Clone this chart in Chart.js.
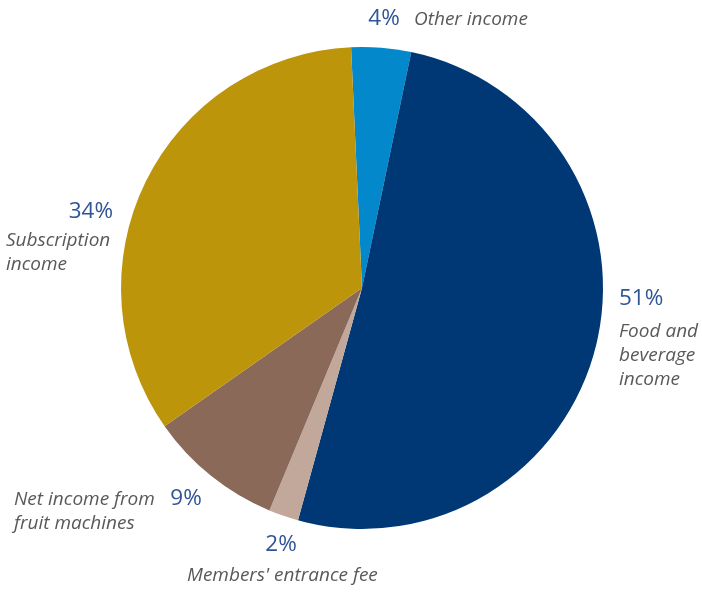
<!DOCTYPE html>
<html>
<head>
<meta charset="utf-8">
<script src="https://cdn.jsdelivr.net/npm/chart.js@4/dist/chart.umd.min.js"></script>
<style>
  body { margin: 0; background: #fff; }
  #wrap { width: 702px; height: 592px; }
</style>
</head>
<body>
<div id="wrap"><canvas id="pie" width="702" height="592"></canvas></div>
<script>
// data, clockwise from the top
const categories = ["Other income", "Food and beverage income", "Members' entrance fee", "Net income from fruit machines", "Subscription income"];
const shares = [4, 51, 2, 9, 34];
const sliceColors = ["#0288cb", "#003875", "#c2a79b", "#8a6959", "#bd950a"];

// where each label block sits (pct text, then name lines), canvas px
const labelLayout = [
  { pct: [384, 19, "center"], lines: ["Other income"], name: [414, 20, "left"] },
  { pct: [619, 299, "left"], lines: ["Food and", "beverage", "income"], name: [619, 332, "left"] },
  { pct: [281, 545, "center"], lines: ["Members' entrance fee"], name: [187, 576, "left"] },
  { pct: [186, 499, "center"], lines: ["Net income from", "fruit machines"], name: [14, 500, "left"] },
  { pct: [113, 212, "right"], lines: ["Subscription", "income"], name: [6, 241, "left"] },
];

const labelPlugin = {
  id: "pieLabels",
  afterDraw(chart) {
    const ctx = chart.ctx;
    const vals = chart.data.datasets[0].data;
    ctx.save();
    ctx.textBaseline = "middle";
    labelLayout.forEach((l, i) => {
      ctx.font = "22.5px 'Open Sans'";
      ctx.fillStyle = "#2f5597";
      ctx.textAlign = l.pct[2];
      ctx.fillText(vals[i] + "%", l.pct[0], l.pct[1]);
      ctx.font = "italic 19px 'Open Sans'";
      ctx.fillStyle = "#595959";
      ctx.textAlign = l.name[2];
      l.lines.forEach((t, j) => ctx.fillText(t, l.name[0], l.name[1] + j * 24));
    });
    ctx.restore();
  }
};

new Chart(document.getElementById("pie").getContext("2d"), {
  type: "pie",
  data: {
    labels: categories,
    datasets: [{
      data: shares,
      backgroundColor: sliceColors,
      borderWidth: 0,
    }],
  },
  options: {
    responsive: false,
    animation: false,
    rotation: -2.6,
    layout: { padding: { top: 47, bottom: 63, left: 121, right: 99 } },
    plugins: {
      legend: { display: false },
      tooltip: { enabled: false },
    },
  },
  plugins: [labelPlugin],
});
</script>
</body>
</html>
